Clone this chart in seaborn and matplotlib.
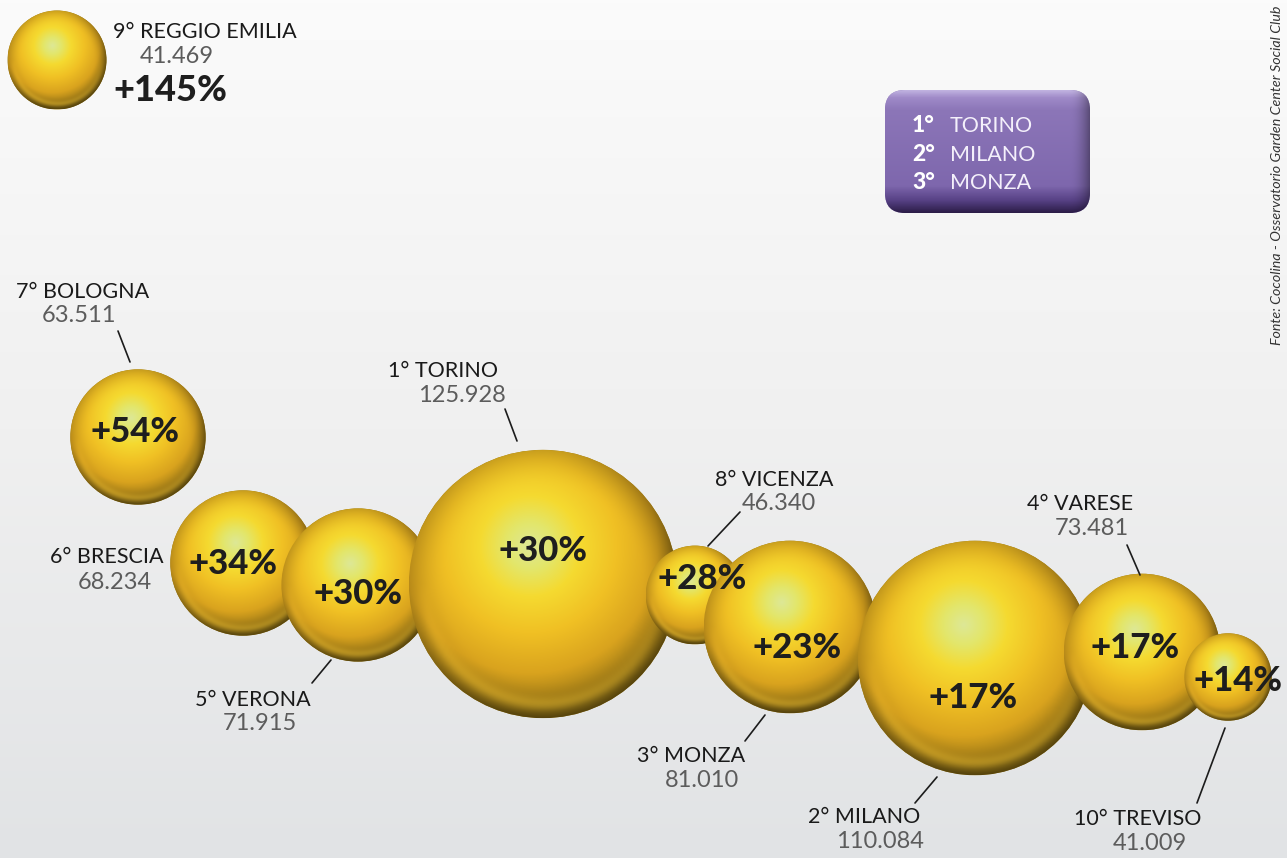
import numpy as np
import pandas as pd
import seaborn as sns
import matplotlib.pyplot as plt
from matplotlib.patches import Circle, FancyBboxPatch
from matplotlib.colors import LinearSegmentedColormap

# data: ranking of the ten cities
ranks = [1, 2, 3, 4, 5, 6, 7, 8, 9, 10]
cities = ['TORINO', 'MILANO', 'MONZA', 'VARESE', 'VERONA',
          'BRESCIA', 'BOLOGNA', 'VICENZA', 'REGGIO EMILIA', 'TREVISO']
values = [125.928, 110.084, 81.010, 73.481, 71.915,
          68.234, 63.511, 46.340, 41.469, 41.009]
growth = [30, 17, 23, 17, 30, 34, 54, 28, 145, 14]
podium = ['TORINO', 'MILANO', 'MONZA']
source = 'Fonte: Cocolina - Osservatorio Garden Center Social Club'

# layout in pixels (figure is 1287 x 858, y grows downwards)
cx = [543, 975, 790, 1142, 358, 243, 138, 695, 57, 1228]
cy = [584, 658, 627, 652, 585, 563, 437, 595, 60, 677]
name_xy = [(388, 377), (808, 823), (637, 762), (1027, 510), (195, 706),
           (50, 563), (16, 298), (715, 486), (113, 38), (1074, 825)]
num_xy = [(418, 402), (836, 848), (665, 787), (1055, 535), (223, 730),
          (78, 589), (42, 322), (742, 510), (140, 63), (1113, 850)]
leaders = [(505, 409, 517, 441), (915, 803, 937, 777), (745, 741, 765, 715),
           (1127, 545, 1140, 575), (312, 683, 331, 660), None,
           (118, 331, 130, 362), (740, 512, 708, 546), None,
           (1225, 728, 1197, 803)]
pct_xy = [(543, 551), (973, 698), (797, 648), (1135, 648), (358, 594),
          (233, 564), (135, 432), (702, 579), None, (1238, 681)]
px_per_unit = 1.065
feature_scale = 1.12   # the top-left bubble is drawn a bit larger

W, H = 1287, 858
sns.set_theme(style='white')
plt.rcParams['font.family'] = ['Lato', 'DejaVu Sans']
BOLD = ['Lato', 'Liberation Sans', 'DejaVu Sans']

fig = plt.figure(figsize=(W / 100, H / 100), dpi=100)
ax = fig.add_axes([0, 0, 1, 1])

# background: white at the top, light grey at the bottom
bg = LinearSegmentedColormap.from_list('bg', ['#fbfbfb', '#f0f0f0', '#e1e3e5'])
ax.imshow(np.linspace(0, 1, 256)[:, None], cmap=bg, aspect='auto',
          extent=[0, W, H, 0], zorder=0)

df = pd.DataFrame({'city': cities, 'value': values, 'x': cx, 'y': cy})
df['r'] = df['value'] * px_per_unit
df.loc[df.city == 'REGGIO EMILIA', 'r'] *= feature_scale
df['s'] = (2 * df['r'] * 0.72) ** 2

# flat gold discs underneath (they give the soft rim)
sns.scatterplot(data=df, x='x', y='y', size='s', sizes=(df.s.min(), df.s.max()),
                size_norm=(df.s.min(), df.s.max()), color='#a07e18',
                linewidth=0, legend=False, ax=ax, zorder=1)

# shaded sphere texture
gold = LinearSegmentedColormap.from_list('gold', [
    (0.0, '#dde896'), (0.14, '#e3e66a'), (0.3, '#f5da30'),
    (0.52, '#f0c024'), (0.76, '#d9a31e'), (1.0, '#8a6c14')])
n = 300
v, u = np.mgrid[-1:1:n * 1j, -1:1:n * 1j]
rr = np.hypot(u, v)
dh = np.hypot(u + 0.1, v + 0.28)
rgb = gold(np.clip(dh / 1.25, 0, 1))[..., :3]
limb = np.clip((rr - 0.72) / 0.28, 0, 1)
side = np.clip((u + v) / 1.6 + 0.5, 0, 1)
rgb = rgb * (1 - 0.38 * limb ** 2 * (0.4 + 0.6 * side))[..., None]
refl = np.exp(-((rr - 0.9) ** 2) / 0.003) * np.clip(v, 0, 1) * 0.2
rgb = np.clip(rgb + refl[..., None] * np.array([1.0, 0.85, 0.3]), 0, 1)

order = df.sort_values('x').index
for z, i in enumerate(order):
    x0, y0, r = df.x[i], df.y[i], df.r[i]
    disc = Circle((x0, y0), r, transform=ax.transData, fc='none', ec='none')
    ax.add_patch(disc)
    im = ax.imshow(rgb, extent=[x0 - r, x0 + r, y0 + r, y0 - r],
                   interpolation='bilinear', zorder=2 + z * 0.01)
    im.set_clip_path(disc)

# labels
for i, city in enumerate(cities):
    nx, ny = name_xy[i]
    ax.text(nx, ny, f'{ranks[i]}° {city}', fontsize=15.5, fontweight='normal',
            color='#1a1a1a', ha='left', va='baseline', zorder=5)
    mx, my = num_xy[i]
    ax.text(mx, my, f'{values[i]:.3f}', fontsize=17, fontweight='normal',
            color='#5c5c5c', ha='left', va='baseline', zorder=5)
    if leaders[i] is not None:
        a, b, c, d = leaders[i]
        ax.plot([a, c], [b, d], color='#1c1c1c', lw=1.2, zorder=5)
    if pct_xy[i] is not None:
        ax.text(*pct_xy[i], f'+{growth[i]}%', fontsize=25, fontweight='black',
                family=BOLD, color='#1e1e1e', ha='center', va='center', zorder=6)

k = cities.index('REGGIO EMILIA')
ax.text(113, 101, f'+{growth[k]}%', fontsize=26, fontweight='black',
        family=BOLD, color='#1e1e1e', ha='left', va='baseline', zorder=6)

# podium box
box = FancyBboxPatch((885, 90), 205, 123, boxstyle='round,pad=0,rounding_size=20',
                     transform=ax.transData, fc='#8670b2', ec='none', zorder=3)
ax.add_patch(box)
purple = LinearSegmentedColormap.from_list('purple', [
    (0.0, '#c0b2e0'), (0.06, '#9f8ac8'), (0.16, '#8c76b8'),
    (0.78, '#7e67ad'), (0.9, '#574185'), (1.0, '#2c1d48')])
gv, gu = np.mgrid[0:1:200j, 0:1:200j]
prgb = purple(gv)[..., :3] * (1 - 0.35 * np.clip((gu - 0.9) / 0.1, 0, 1) ** 2)[..., None]
pim = ax.imshow(prgb, extent=[885, 1090, 213, 90], interpolation='bilinear', zorder=3.5)
pim.set_clip_path(box)
for j, city in enumerate(podium):
    yb = 132 + j * 28.7
    ax.text(912, yb, f'{j + 1}°', fontsize=16.5, fontweight='black',
            family=BOLD, color='white', ha='left', va='baseline', zorder=4)
    ax.text(950, yb, city, fontsize=15.5, fontweight='normal', color='#f4f0fb',
            ha='left', va='baseline', zorder=4)

# source, rotated along the right edge
ax.text(1277, 345, source, rotation=90, fontsize=10.3, style='italic',
        color='#333333', ha='center', va='bottom', zorder=4)

ax.set_xlim(0, W)
ax.set_ylim(H, 0)
ax.axis('off')
fig.savefig('out.png', dpi=100)
